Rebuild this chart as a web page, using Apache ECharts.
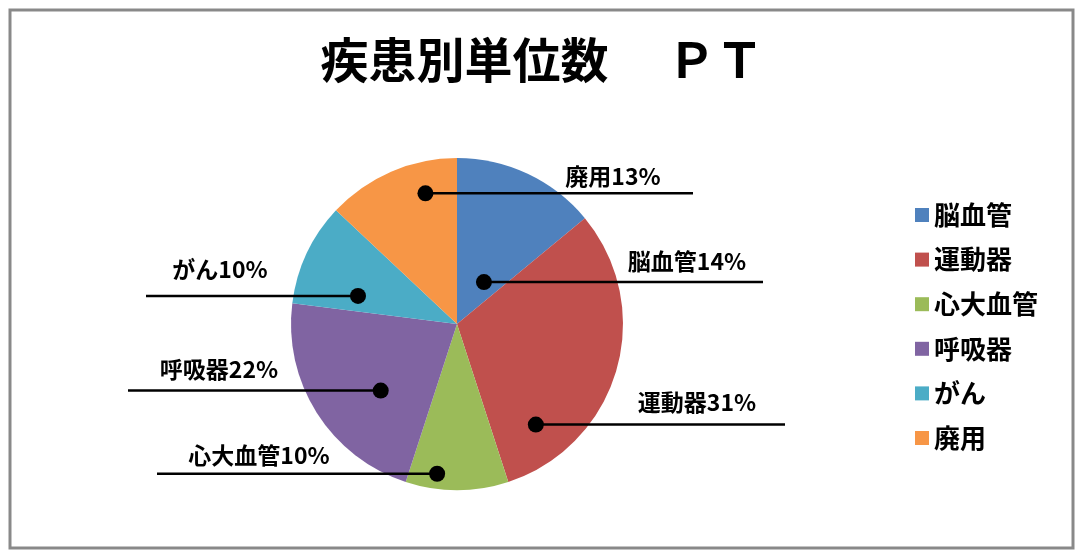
<!DOCTYPE html>
<html lang="ja">
<head>
<meta charset="UTF-8">
<title>疾患別単位数 PT</title>
<style>
    html, body { margin: 0; padding: 0; background: #fff; }
    #main { width: 1084px; height: 560px; }
</style>
</head>
<body>
<div id="main"></div>
<script src="https://cdn.jsdelivr.net/npm/echarts@6/dist/echarts.min.js"></script>
<script>
    // データ
    var categories = ['脳血管', '運動器', '心大血管', '呼吸器', 'がん', '廃用'];
    var unitShares = [14, 31, 10, 22, 10, 13];
    var sliceColors = ['#4F81BD', '#C0504D', '#9BBB59', '#8064A2', '#4BACC6', '#F79646'];

    // ラベル配置 (レイアウト用)
    var anchorT = [0.65, 0.82, 0.71, 0.39, 0.24, 0.71];   // 扇形内の角度位置 (0-1)
    var anchorR = [0.30, 0.77, 0.91, 0.61, 0.62, 0.81];   // 半径比
    var lineEndX = [763, 785, 157, 128, 146, 693];
    var labelX = [687, 697, 259, 219, 220, 613];
    var labelRise = [21, 22, 18, 21, 27, 17];

    var font = '"Noto Sans CJK JP", "Noto Sans", sans-serif';
    var cx = 457, cy = 324, R = 166;
    var total = unitShares.reduce(function (a, b) { return a + b; }, 0);

    // 扇形ごとの点の位置 [半径, 角度]
    var anchors = [];
    var acc = 0;
    unitShares.forEach(function (v, i) {
        anchors.push([anchorR[i], acc + anchorT[i] * v]);
        acc += v;
    });

    function anchorPixel(i) {
        var a = anchors[i][1] / total * Math.PI * 2;
        var r = anchors[i][0] * R;
        return [cx + r * Math.sin(a), cy - r * Math.cos(a)];
    }

    var pieData = categories.map(function (n, i) {
        return { name: n, value: unitShares[i] };
    });

    var myChart = echarts.init(document.getElementById('main'));

    var option = {
        backgroundColor: '#fff',
        animation: false,
        color: sliceColors,
        title: {
            text: '疾患別単位数　 ＰＴ',
            left: 'center',
            top: 31,
            textStyle: { fontFamily: font, fontSize: 48, fontWeight: 'bold', color: '#000' }
        },
        legend: {
            orient: 'vertical',
            left: 910,
            top: 197,
            icon: 'rect',
            itemWidth: 14,
            itemHeight: 14,
            itemGap: 18.6,
            data: categories,
            textStyle: { fontFamily: font, fontSize: 26, fontWeight: 'bold', color: '#000' }
        },
        polar: { center: [cx, cy], radius: R },
        angleAxis: { type: 'value', min: 0, max: total, startAngle: 90, clockwise: true, show: false },
        radiusAxis: { type: 'value', min: 0, max: 1, show: false },
        graphic: [{
            type: 'rect',
            shape: { x: 10, y: 10, width: 1063, height: 538 },
            style: { fill: 'none', stroke: '#898989', lineWidth: 3 },
            silent: true
        }],
        series: [
            {
                type: 'pie',
                center: [cx, cy],
                radius: [0, R],
                startAngle: 90,
                clockwise: true,
                data: pieData,
                label: { show: false },
                labelLine: { show: false },
                emphasis: { disabled: true }
            },
            {
                // ラベルと引き出し線 (扇形の上に描く)
                type: 'pie',
                center: [cx, cy],
                radius: [0, R],
                startAngle: 90,
                clockwise: true,
                z: 4,
                silent: true,
                data: pieData,
                itemStyle: { color: 'rgba(0,0,0,0)' },
                label: {
                    show: true,
                    position: 'outside',
                    formatter: function (p) { return p.name + p.value + '%'; },
                    fontFamily: font,
                    fontSize: 23,
                    fontWeight: 'bold',
                    color: '#000'
                },
                labelLine: {
                    show: true,
                    length: 0,
                    length2: 0,
                    lineStyle: { color: '#000', width: 2.5 }
                },
                labelLayout: function (params) {
                    var i = params.dataIndex;
                    var p = anchorPixel(i);
                    return {
                        x: labelX[i],
                        y: p[1] - labelRise[i],
                        align: 'center',
                        verticalAlign: 'middle',
                        labelLinePoints: [[p[0], p[1]], [(p[0] + lineEndX[i]) / 2, p[1]], [lineEndX[i], p[1]]]
                    };
                },
                emphasis: { disabled: true }
            },
            {
                type: 'scatter',
                coordinateSystem: 'polar',
                symbolSize: 16,
                z: 5,
                itemStyle: { color: '#000', opacity: 1 },
                data: anchors,
                silent: true
            }
        ]
    };

    myChart.setOption(option);
</script>
</body>
</html>
